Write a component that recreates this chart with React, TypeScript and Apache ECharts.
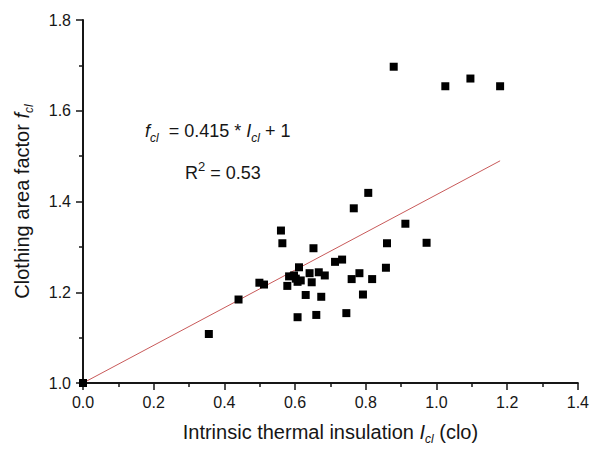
import React, { useEffect, useRef } from "react";
import * as echarts from "echarts";

// Intrinsic thermal insulation I_cl (clo)
const insulation = [
  0.0, 0.356, 0.44, 0.499, 0.512, 0.56, 0.564, 0.583, 0.578, 0.597,
  0.602, 0.607, 0.616, 0.611, 0.607, 0.63, 0.641, 0.647, 0.652, 0.66,
  0.667, 0.674, 0.684, 0.713, 0.733, 0.745, 0.76, 0.766, 0.782, 0.792,
  0.807, 0.818, 0.857, 0.86, 0.879, 0.912, 0.972, 1.025, 1.096, 1.18,
];
// Clothing area factor f_cl
const areaFactor = [
  1.0, 1.108, 1.184, 1.221, 1.217, 1.336, 1.308, 1.235, 1.214, 1.237,
  1.23, 1.223, 1.226, 1.255, 1.145, 1.194, 1.242, 1.222, 1.297, 1.15,
  1.244, 1.19, 1.237, 1.267, 1.272, 1.154, 1.229, 1.385, 1.242, 1.195,
  1.419, 1.229, 1.254, 1.308, 1.697, 1.351, 1.309, 1.654, 1.671, 1.654,
];
// Linear fit f_cl = slope * I_cl + intercept
const slope = 0.415;
const intercept = 1;
const fitRange = [0, 1.18];

const xTicks = { min: 0, max: 1.4, interval: 0.2 };
const yTicks = { min: 1.0, max: 1.8, interval: 0.2 };

const FONT = "'Liberation Sans', Arial, sans-serif";
const INK = "#161616";

export default function App() {
  const ref = useRef<HTMLDivElement>(null);
  useEffect(() => {
    if (!ref.current) return;
    const chart = echarts.init(ref.current, null, { renderer: "svg" });
    const points = insulation.map((x, i) => [x, areaFactor[i]]);
    const fit = fitRange.map((x) => [x, slope * x + intercept]);
    const titleRich = (size: number) => ({
      t: { fontSize: size, fontFamily: FONT, color: INK, lineHeight: size + 6 },
      i: { fontSize: size, fontFamily: FONT, fontStyle: "italic", color: INK, lineHeight: size + 6 },
      s: { fontSize: Math.round(size * 0.62), fontFamily: FONT, fontStyle: "italic", color: INK, verticalAlign: "bottom" },
    });
    const axisCommon = {
      type: "value",
      axisLine: { show: true, lineStyle: { color: INK, width: 2 } },
      axisTick: { show: true, length: 7, lineStyle: { color: INK, width: 1.5 } },
      minorTick: { show: true, splitNumber: 2, length: 4, lineStyle: { color: INK, width: 1.5 } },
      splitLine: { show: false },
      minorSplitLine: { show: false },
      axisLabel: {
        fontSize: 16,
        fontFamily: FONT,
        color: INK,
        formatter: (v: number) => v.toFixed(1),
      },
      nameLocation: "middle",
    };
    chart.setOption({
      animation: false,
      backgroundColor: "#ffffff",
      grid: { left: 83, right: 12, top: 20, bottom: 65, containLabel: false },
      xAxis: {
        ...axisCommon,
        ...xTicks,
        axisLabel: { ...axisCommon.axisLabel, margin: 11 },
        name: "{t|Intrinsic thermal insulation }{i|I}{s|cl}{t| (clo)}",
        nameGap: 36,
        nameTextStyle: { rich: titleRich(20) },
      },
      yAxis: {
        ...axisCommon,
        ...yTicks,
        axisLabel: { ...axisCommon.axisLabel, margin: 12 },
        name: "{t|Clothing area factor }{i|f}{s|cl}",
        nameGap: 48,
        nameTextStyle: { rich: titleRich(20) },
      },
      series: [
        {
          type: "line",
          data: fit,
          symbol: "none",
          lineStyle: { color: "#c85a5a", width: 1 },
          z: 1,
        },
        {
          type: "scatter",
          data: points,
          symbol: "rect",
          symbolSize: 8,
          itemStyle: { color: "#000000", opacity: 1 },
          z: 3,
        },
      ],
      graphic: [
        {
          type: "text",
          left: 145,
          top: 122,
          style: {
            text: "{i|f}{s|cl}{t|  = 0.415 * }{i|I}{s|cl}{t| + 1}",
            rich: {
              t: { fontSize: 18, fontFamily: FONT, fill: INK, lineHeight: 26 },
              i: { fontSize: 18, fontFamily: FONT, fontStyle: "italic", fill: INK, lineHeight: 26 },
              s: { fontSize: 12, fontFamily: FONT, fontStyle: "italic", fill: INK, verticalAlign: "bottom" },
            },
          },
        },
        {
          type: "text",
          left: 185,
          top: 160,
          style: {
            text: "{t|R}{p|2}{t| = 0.53}",
            rich: {
              t: { fontSize: 18, fontFamily: FONT, fill: INK, lineHeight: 26 },
              p: { fontSize: 13, fontFamily: FONT, fill: INK, verticalAlign: "top" },
            },
          },
        },
      ],
    });
    return () => chart.dispose();
  }, []);
  return (
    <div
      ref={ref}
      style={{ position: "absolute", left: 0, top: 0, width: 592, height: 450 }}
    />
  );
}
